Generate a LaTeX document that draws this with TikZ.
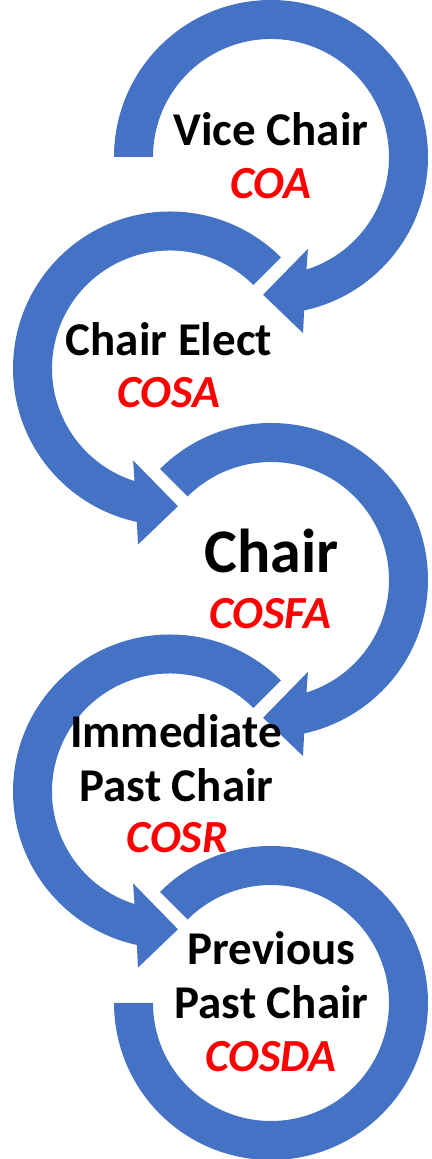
\documentclass[tikz,border=0pt]{standalone}
\usepackage{fontspec}
\setmainfont{Carlito}
\definecolor{arrowblue}{HTML}{4472C4}
\definecolor{labelred}{HTML}{FF0000}
\tikzset{
  band/.style={fill=arrowblue, draw=none},
  role/.style={anchor=base, inner sep=0pt, text=black, font=\fontsize{47}{56}\selectfont\bfseries},
  bigrole/.style={anchor=base, inner sep=0pt, text=black, font=\fontsize{62}{72}\selectfont\bfseries},
  org/.style={anchor=base, inner sep=0pt, text=labelred, font=\fontsize{46}{56}\selectfont\bfseries\itshape},
}
\newcommand\cwArrow[2]{%
  \fill[band, shift={(#1)}] (#2:157) arc[start angle=#2, end angle=-77.8, radius=157]
    -- (-79.7:179) -- (-93.3:138) -- (-68.1:99) -- (-72.5:118)
    arc[start angle=-72.5, end angle=#2, radius=118] -- cycle;}
\newcommand\ccwArrow[2]{%
  \fill[band, shift={(#1)}] (#2:157) arc[start angle=#2, end angle=257.8, radius=157]
    -- (259.7:179) -- (273.3:138) -- (248.1:99) -- (252.5:118)
    arc[start angle=252.5, end angle=#2, radius=118] -- cycle;}
\begin{document}
\begin{tikzpicture}[x=1pt,y=1pt]
\useasboundingbox (0,0) rectangle (431,1159);
\coordinate (c1) at (271,1002);
\coordinate (c2) at (170,790.5);
\coordinate (c3) at (271,579);
\coordinate (c4) at (170,367.5);
\coordinate (c5) at (271,156);

\cwArrow{c1}{180}
\ccwArrow{c2}{45}
\cwArrow{c3}{135}
\ccwArrow{c4}{45}
\fill[band, shift={(c5)}] (135:157) arc[start angle=135, end angle=-180, radius=157]
  -- (-180:118) arc[start angle=-180, end angle=135, radius=118] -- cycle;

\node[role] (t1a) at (271,1013) {Vice Chair};
\node[org]  (t1b) at (271,960) {COA};
\node[role] (t2a) at (169,803) {Chair Elect};
\node[org]  (t2b) at (169,751) {COSA};
\node[bigrole] (t3a) at (271.5,586.3) {Chair};
\node[org]  (t3b) at (270.5,530) {COSFA};
\node[role] (t4a) at (176,411) {Immediate};
\node[role] (t4b) at (176.5,357) {Past Chair};
\node[org]  (t4c) at (177.5,306) {COSR};
\node[role] (t5a) at (271.5,194) {Previous};
\node[role] (t5b) at (271.5,140) {Past Chair};
\node[org]  (t5c) at (271,87) {COSDA};
\end{tikzpicture}
\end{document}
